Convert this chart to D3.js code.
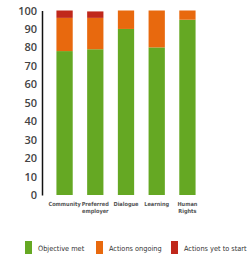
<!DOCTYPE html>
<html><head><meta charset="utf-8">
<script src="https://cdn.jsdelivr.net/npm/d3@7"></script>
<style>body{margin:0;background:#fff;}svg{display:block;}</style>
</head><body>
<svg id="c" width="250" height="255"></svg>
<script>
const categories = [["Community"],["Preferred","employer"],["Dialogue"],["Learning"],["Human","Rights"]];
const objectiveMet = [78, 79, 90, 80, 95];
const actionsOngoing = [18, 17, 10, 20, 5];
const actionsYetToStart = [4, 3.5, 0, 0, 0];
const seriesNames = ["Objective met","Actions ongoing","Actions yet to start"];
const colors = ["#65a823","#e8690e","#c0281b"];
const yTicks = [0,10,20,30,40,50,60,70,80,90,100];

const svg = d3.select("#c");
const font = "'Open Sans', sans-serif";
const condensed = "'DejaVu Sans Condensed', 'Liberation Sans Narrow', sans-serif";
const y = d3.scaleLinear().domain([0,100]).range([195,10.5]);
const x = d3.scaleBand().domain(d3.range(categories.length)).range([42,210]).paddingInner(0.47).paddingOuter(0.47);

const data = categories.map((c,i)=>({i, vals:[objectiveMet[i],actionsOngoing[i],actionsYetToStart[i]]}));
const stack = d3.stack().keys([0,1,2]).value((d,k)=>d.vals[k]);
const series = stack(data);

svg.append("g").selectAll("g").data(series).join("g")
  .attr("fill",(d,k)=>colors[k])
  .selectAll("rect").data(d=>d).join("rect")
  .attr("x",d=>x(d.data.i))
  .attr("width",x.bandwidth())
  .attr("y",d=>y(d[1]))
  .attr("height",d=>y(d[0])-y(d[1]));

const ya = svg.append("g").attr("transform","translate(42,0)")
  .call(d3.axisLeft(y).tickValues(yTicks).tickSize(0).tickPadding(5));
ya.select(".domain").attr("stroke","#111").attr("stroke-width",1.5);
ya.selectAll("text").attr("font-family",font).attr("font-size",11).attr("font-weight",600).attr("fill","#444");

const xl = svg.append("g");
categories.forEach((c,i)=>{
  const t = xl.append("text").attr("x",x(i)+x.bandwidth()/2).attr("y",206)
    .attr("text-anchor","middle").attr("font-family",condensed).attr("font-size",5.6).attr("font-weight",700).attr("fill","#555");
  c.forEach((line,j)=>t.append("tspan").attr("x",x(i)+x.bandwidth()/2).attr("dy",j?7:0).text(line));
});

const legX = [25, 96, 171];
const lg = svg.append("g");
seriesNames.forEach((n,k)=>{
  lg.append("rect").attr("x",legX[k]).attr("y",241).attr("width",7).attr("height",13).attr("fill",colors[k]);
  lg.append("text").attr("x",legX[k]+13).attr("y",251).attr("font-family",condensed).attr("font-size",7.3)
    .attr("font-weight",400).attr("fill","#333").text(n);
});
</script>
</body></html>
